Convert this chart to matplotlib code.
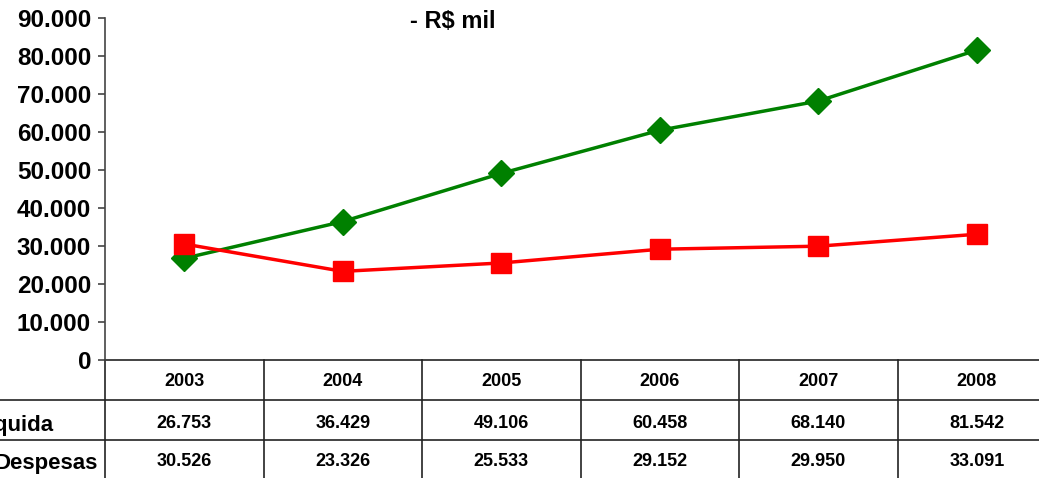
import matplotlib
matplotlib.use("Agg")
import matplotlib.pyplot as plt
from matplotlib.ticker import FuncFormatter
import matplotlib.transforms as mtransforms

plt.rcParams['font.family'] = ['Liberation Sans', 'DejaVu Sans']
plt.rcParams['font.weight'] = 'bold'

years = ['2003', '2004', '2005', '2006', '2007', '2008']
receita = [26753, 36429, 49106, 60458, 68140, 81542]
despesas = [30526, 23326, 25533, 29152, 29950, 33091]
row_labels = ['Receita Líquida', 'Despesas']
yticks = [0, 10000, 20000, 30000, 40000, 50000, 60000, 70000, 80000, 90000]

W, H = 1039, 478
fig = plt.figure(figsize=(W / 100, H / 100), dpi=100)
# axes extends past the right edge, like the cropped original
ax = fig.add_axes([105 / W, (H - 360) / H, (1056 - 105) / W, (360 - 18) / H])

x = list(range(len(years)))
ax.plot(x, receita, color='#008000', lw=2.5, marker='D', ms=13, mec='#008000', clip_on=False, zorder=3)
ax.plot(x, despesas, color='#ff0000', lw=2.5, marker='s', ms=14, mec='#ff0000', clip_on=False, zorder=3)

ax.set_xlim(-0.5, len(years) - 0.5)
ax.set_ylim(0, 90000)
ax.set_yticks(yticks)
ax.yaxis.set_major_formatter(FuncFormatter(lambda v, p: f"{int(v):,}".replace(',', '.')))
ax.tick_params(axis='y', labelsize=17.5, length=5, width=1.2, pad=5, color='#444444')
for lbl in ax.get_yticklabels():
    lbl.set_fontweight('bold')
ax.set_xticks([])
for s in ['top', 'right', 'bottom']:
    ax.spines[s].set_visible(False)
ax.spines['left'].set_color('#444444')
ax.spines['left'].set_linewidth(1.2)

# data table below the axis
trans = mtransforms.blended_transform_factory(ax.transData, ax.transAxes)
px = 1 / (360 - 18)
rows_y = [0, -40 * px, -80 * px]
bottom = -130 * px
lc = '#222222'
ax.plot([-0.5, len(years) - 0.5], [0, 0], color=lc, lw=1.2, transform=trans, clip_on=False)
for yy in rows_y[1:]:
    ax.plot([-1.5, len(years) - 0.5], [yy, yy], color=lc, lw=1.2, transform=trans, clip_on=False)
for i in range(len(years) + 1):
    ax.plot([i - 0.5, i - 0.5], [0, bottom], color=lc, lw=1.2, transform=trans, clip_on=False)

for i, yr in enumerate(years):
    ax.text(i, -21 * px, yr, transform=trans, ha='center', va='center', fontsize=13, fontweight='bold')
    ax.text(i, -63 * px, f"{receita[i]:,}".replace(',', '.'), transform=trans, ha='center', va='center',
            fontsize=13, fontweight='bold')
    ax.text(i, -102 * px, f"{despesas[i]:,}".replace(',', '.'), transform=trans, ha='center', va='center',
            fontsize=13, fontweight='bold')

fig.text(53 / W, 1 - 425 / H, row_labels[0], ha='right', va='center', fontsize=16, fontweight='bold')
fig.text(98 / W, 1 - 464 / H, row_labels[1], ha='right', va='center', fontsize=16, fontweight='bold')

fig.text(453 / W, 1 - 22 / H, '- R$ mil', ha='center', va='center', fontsize=17, fontweight='bold')

fig.savefig('out.png', dpi=100)
